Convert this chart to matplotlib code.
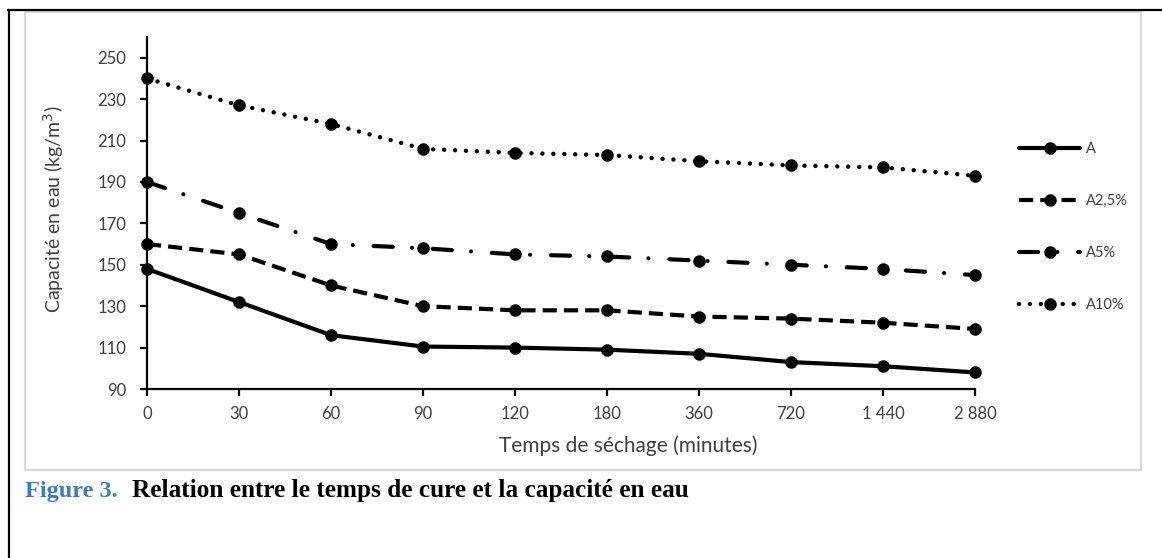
import matplotlib
matplotlib.use("Agg")
import matplotlib.pyplot as plt
from matplotlib.lines import Line2D
from matplotlib.patches import Rectangle

categories = ["0", "30", "60", "90", "120", "180", "360", "720", "1 440", "2 880"]
serie_A = [148, 132, 116, 110.5, 110, 109, 107, 103, 101, 98]
serie_A25 = [160, 155, 140, 130, 128, 128, 125, 124, 122, 119]
serie_A5 = [190, 175, 160, 158, 155, 154, 152, 150, 148, 145]
serie_A10 = [240, 227, 218, 206, 204, 203, 200, 198, 197, 193]
labels = ["A", "A2,5%", "A5%", "A10%"]
yticks = [90, 110, 130, 150, 170, 190, 210, 230, 250]

W, H = 1162, 558
fig = plt.figure(figsize=(W / 100, H / 100), dpi=100)

def fx(px):
    return px / W

def fy(py):
    return 1 - py / H

# outer frame lines
fig.add_artist(Line2D([fx(8), fx(1162)], [fy(10), fy(10)], color="black", lw=1.6))
fig.add_artist(Line2D([fx(9), fx(9)], [fy(10), fy(558)], color="black", lw=1.6))
# chart area grey frame
fig.add_artist(Rectangle((fx(25), fy(470)), fx(1141) - fx(25), fy(12) - fy(470),
                         fill=False, edgecolor="#d9d9d9", lw=1.6))

ax = fig.add_axes([fx(147), fy(389), fx(975) - fx(147), fy(37) - fy(389)])
x = list(range(len(categories)))

lw = 3.0
ms = 8
styles = [
    dict(linestyle="-"),
    dict(linestyle=(0, (3.4, 1.7)), dash_capstyle="butt"),
    dict(linestyle=(0, (4.6, 4.6, 0.01, 5.0)), dash_capstyle="round"),
    dict(linestyle=(0, (0.01, 2.45)), dash_capstyle="round", lw=3.2),
]
series = [serie_A, serie_A25, serie_A5, serie_A10]
handles = []
for s, st, lab in zip(series, styles, labels):
    kw = dict(color="black", lw=lw, marker="o", markersize=ms, solid_capstyle="round")
    kw.update(st)
    h, = ax.plot(x, s, label=lab, clip_on=False, **kw)
    handles.append(h)

ax.set_xlim(0, 9)
ax.set_ylim(90, 260)
ax.set_yticks(yticks)
ax.set_xticks(x)
ax.set_xticklabels(categories)
for sp in ["top", "right"]:
    ax.spines[sp].set_visible(False)
for sp in ["left", "bottom"]:
    ax.spines[sp].set_linewidth(1.6)
ax.tick_params(axis="both", direction="out", length=5, width=1.6, labelsize=12,
               labelcolor="#404040")
ax.tick_params(axis="y", pad=10)
ax.tick_params(axis="x", pad=7)
for t in ax.get_xticklabels() + ax.get_yticklabels():
    t.set_family("Lato")

fig.text(fx(628), fy(446), "Temps de séchage (minutes)", ha="center", va="center",
         fontsize=15, family="Lato", color="#404040")
fig.text(fx(54), fy(209), "Capacité en eau (kg/m$^{3}$)", ha="center", va="center",
         rotation=90, fontsize=14, family="Lato", color="#404040")

leg = fig.legend(handles=handles, labels=labels, loc="upper left",
                 bbox_to_anchor=(fx(1006), fy(129)), frameon=False,
                 handlelength=4.2, handletextpad=0.4, labelspacing=2.6,
                 prop={"family": "Lato", "size": 10.5})
for t in leg.get_texts():
    t.set_color("#404040")

fig.text(fx(25), fy(497), "Figure 3.", ha="left", va="baseline", fontsize=17.5,
         family="Liberation Serif", weight="bold", color="#3a7ebf")
fig.text(fx(132), fy(497), "Relation entre le temps de cure et la capacité en eau",
         ha="left", va="baseline", fontsize=18.2, family="Liberation Serif",
         weight="bold", color="black")

fig.savefig("out.png", dpi=100)
